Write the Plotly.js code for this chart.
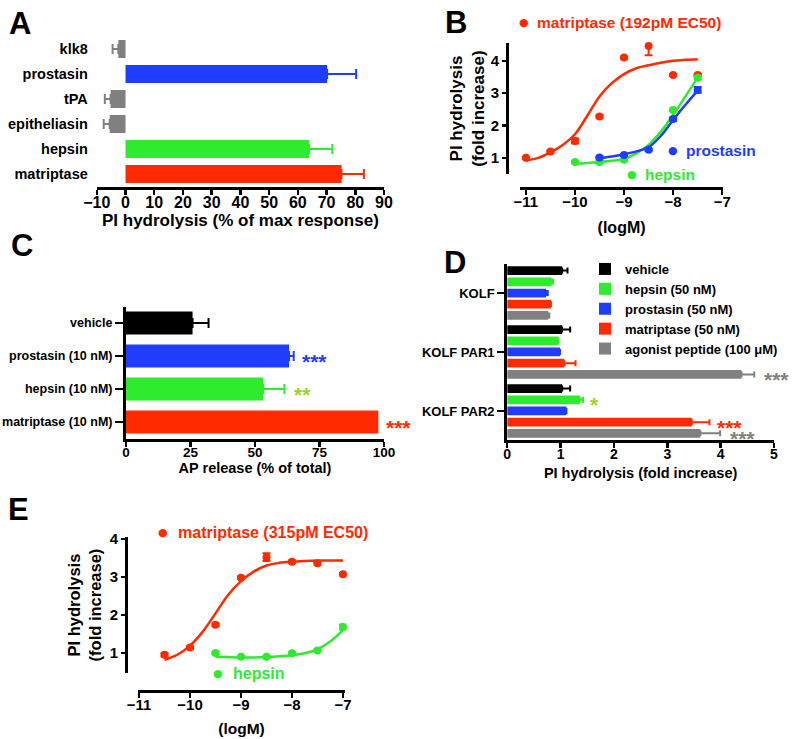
<!DOCTYPE html>
<html>
<head>
<meta charset="utf-8">
<script src="https://cdn.plot.ly/plotly-3.0.1.min.js"></script>
<style>
  body { margin: 0; background: #fff; }
  #plotDiv { width: 800px; height: 739px; }
</style>
</head>
<body>
<div id="plotDiv"></div>
<script>
var RED = '#ff2a00', BLUE = '#1f3dff', GREEN = '#2eeb2e', GRAY = '#808080', BLACK = '#000000', LIME = '#99d61f';

// A - PI hydrolysis (% of max response)
var aCats = ['klk8', 'prostasin', 'tPA', 'epitheliasin', 'hepsin', 'matriptase'];
var aVals = [-2.5, 70.2, -5.2, -5.5, 63.9, 75.2];
var aErr = [2.0, 10.1, 2.0, 2.1, 8.1, 7.8];
var aColors = [GRAY, BLUE, GRAY, GRAY, GREEN, RED];

// B - dose response, points
var bMatDose = [-11, -10.5, -10, -9.5, -9, -8.5, -8, -7.5];
var bMatVals = [1.0, 1.2, 1.52, 2.28, 4.1, 4.46, 3.56, 3.56];
var bMatErr = [0.03, 0.03, 0.08, 0.03, 0.03, 0.29, 0.03, 0.03];
var bProDose = [-9.5, -9, -8.5, -8, -7.5];
var bProVals = [1.01, 1.09, 1.25, 2.2, 3.1];
var bProErr = [0.03, 0.03, 0.03, 0.05, 0.09];
var bHepDose = [-10, -9.5, -9, -8, -7.5];
var bHepVals = [0.87, 0.87, 0.94, 2.48, 3.48];
var bHepErr = [0.03, 0.03, 0.03, 0.04, 0.05];
// B - fitted curves
var bMatFitDose = [-11, -10.75, -10.5, -10.25, -10, -9.75, -9.5, -9.25, -9, -8.75, -8.5, -8.25, -8, -7.75, -7.5];
var bMatFit = [0.92, 1.0, 1.17, 1.4, 1.73, 2.3, 2.9, 3.31, 3.59, 3.77, 3.86, 3.94, 4.0, 4.03, 4.05];
var bProFitDose = [-9.5, -9.25, -9, -8.75, -8.5, -8.25, -8, -7.75, -7.5];
var bProFit = [0.99, 1.04, 1.11, 1.2, 1.33, 1.68, 2.17, 2.64, 3.08];
var bHepFitDose = [-10, -9.75, -9.5, -9.25, -9, -8.75, -8.5, -8.25, -8, -7.75, -7.5];
var bHepFit = [0.82, 0.84, 0.87, 0.91, 0.97, 1.14, 1.4, 1.81, 2.33, 2.9, 3.48];

// C - AP release (% of total)
var cCats = ['vehicle', 'prostasin (10 nM)', 'hepsin (10 nM)', 'matriptase (10 nM)'];
var cVals = [25.8, 63.2, 53.2, 97.8];
var cErr = [6.2, 1.8, 8.2, 0];
var cColors = [BLACK, BLUE, GREEN, RED];
var cStars = ['', '***', '**', '***'];
var cStarX = [0, 67.5, 64.5, 100];
var cStarColors = [BLACK, BLUE, LIME, RED];

// D - PI hydrolysis (fold increase) by cell line
var dCats = ['KOLF', 'KOLF PAR1', 'KOLF PAR2'];
var dNames = ['vehicle', 'hepsin (50 nM)', 'prostasin (50 nM)', 'matriptase (50 nM)', 'agonist peptide (100 \u03bcM)'];
var dColors = [BLACK, GREEN, BLUE, RED, GRAY];
var dVehicle = [1.03, 1.03, 1.03];
var dVehicleErr = [0.1, 0.15, 0.15];
var dHepsin = [0.83, 0.96, 1.36];
var dHepsinErr = [0.03, 0, 0.06];
var dProstasin = [0.73, 0.99, 1.11];
var dProstasinErr = [0.03, 0, 0];
var dMatriptase = [0.82, 1.07, 3.46];
var dMatriptaseErr = [0, 0.21, 0.33];
var dAgonist = [0.77, 4.39, 3.62];
var dAgonistErr = [0.02, 0.24, 0.37];

// E - dose response, points and fits
var eMatDose = [-10.5, -10, -9.5, -9, -8.5, -8, -7.5, -7];
var eMatVals = [0.95, 1.14, 1.74, 2.98, 3.52, 3.4, 3.36, 3.07];
var eMatErr = [0.04, 0.03, 0.03, 0.03, 0.1, 0.03, 0.03, 0.03];
var eHepDose = [-9.5, -9, -8.5, -8, -7.5, -7];
var eHepVals = [1.0, 0.9, 0.9, 0.99, 1.06, 1.68];
var eHepErr = [0.03, 0.02, 0.02, 0.02, 0.03, 0.07];
var eMatFitDose = [-10.5, -10.25, -10, -9.75, -9.5, -9.25, -9, -8.75, -8.5, -8.25, -8, -7.5, -7];
var eMatFit = [0.82, 0.95, 1.19, 1.56, 2.04, 2.53, 2.89, 3.14, 3.3, 3.37, 3.4, 3.43, 3.43];
var eHepFitDose = [-9.5, -9.25, -9, -8.75, -8.5, -8.25, -8, -7.75, -7.5, -7.25, -7];
var eHepFit = [0.9, 0.89, 0.88, 0.88, 0.89, 0.91, 0.94, 0.99, 1.1, 1.3, 1.6];

var FONT = 'Liberation Sans, Arial, sans-serif';
function f(size, color) {
  return { family: FONT, size: size, color: color || 'black', weight: 'bold' };
}

function axis(extra) {
  var base = {
    showline: true, linewidth: 3, linecolor: 'black',
    ticks: 'outside', ticklen: 5, tickwidth: 2.5, tickcolor: 'black',
    showgrid: false, zeroline: false, tickfont: f(15), fixedrange: true
  };
  for (var k in extra) base[k] = extra[k];
  return base;
}

function onlyPos(v, e) { return v.map(function (d, i) { return d >= 0 ? e[i] : 0; }); }
function onlyNeg(v, e) { return v.map(function (d, i) { return d < 0 ? e[i] : 0; }); }

function points(x, y, err, color, xa, ya) {
  return {
    type: 'scatter', mode: 'markers', x: x, y: y, xaxis: xa, yaxis: ya,
    marker: { color: color, size: 8 }, cliponaxis: false, showlegend: false,
    error_y: { type: 'data', array: err, color: color, thickness: 2, width: 4 }
  };
}
function fit(x, y, color, xa, ya) {
  return {
    type: 'scatter', mode: 'lines', x: x, y: y, xaxis: xa, yaxis: ya,
    line: { color: color, width: 2.5, shape: 'spline' }, showlegend: false
  };
}

var data = [
  {
    type: 'bar', orientation: 'h', y: aCats, x: aVals, width: 0.72,
    marker: { color: aColors }, showlegend: false, xaxis: 'x', yaxis: 'y'
  },
  fit(bMatFitDose, bMatFit, RED, 'x2', 'y2'),
  fit(bHepFitDose, bHepFit, GREEN, 'x2', 'y2'),
  fit(bProFitDose, bProFit, BLUE, 'x2', 'y2'),
  points(bMatDose, bMatVals, bMatErr, RED, 'x2', 'y2'),
  points(bHepDose, bHepVals, bHepErr, GREEN, 'x2', 'y2'),
  points(bProDose, bProVals, bProErr, BLUE, 'x2', 'y2'),
  {
    type: 'bar', orientation: 'h', y: cCats, x: cVals, width: 0.7,
    marker: { color: cColors }, showlegend: false, xaxis: 'x3', yaxis: 'y3'
  },
  fit(eMatFitDose, eMatFit, RED, 'x5', 'y5'),
  fit(eHepFitDose, eHepFit, GREEN, 'x5', 'y5'),
  points(eMatDose, eMatVals, eMatErr, RED, 'x5', 'y5'),
  points(eHepDose, eHepVals, eHepErr, GREEN, 'x5', 'y5')
];

// per-bar coloured error bars for A and C
aCats.forEach(function (c, i) {
  data.push({
    type: 'scatter', mode: 'none', y: [c], x: [aVals[i]], xaxis: 'x', yaxis: 'y', showlegend: false,
    error_x: { type: 'data', symmetric: false, array: [onlyPos(aVals, aErr)[i]], arrayminus: [onlyNeg(aVals, aErr)[i]],
      color: aColors[i], thickness: 2, width: 5 }
  });
});
cCats.forEach(function (c, i) {
  if (!cErr[i]) return;
  data.push({
    type: 'scatter', mode: 'none', y: [c], x: [cVals[i]], xaxis: 'x3', yaxis: 'y3', showlegend: false,
    error_x: { type: 'data', symmetric: false, array: [cErr[i]], arrayminus: [0], color: cColors[i], thickness: 2, width: 5 }
  });
});

var dSeries = [dVehicle, dHepsin, dProstasin, dMatriptase, dAgonist];
var dErrs = [dVehicleErr, dHepsinErr, dProstasinErr, dMatriptaseErr, dAgonistErr];
dSeries.forEach(function (s, i) {
  data.push({
    type: 'bar', orientation: 'h', name: dNames[i], y: dCats, x: s, xaxis: 'x4', yaxis: 'y4',
    marker: { color: dColors[i] },
    error_x: { type: 'data', symmetric: false, array: dErrs[i], arrayminus: [0, 0, 0], color: dColors[i], thickness: 2, width: 3 }
  });
});

function paperNote(t, x, y, font, xanchor) {
  return { text: t, xref: 'paper', yref: 'paper', x: x / 800, y: 1 - y / 739, showarrow: false,
    xanchor: xanchor || 'center', yanchor: 'middle', font: font };
}
function letter(t, x, y) { return paperNote(t, x, y, f(31)); }
function label(t, color, x, y, size) { return paperNote(t, x, y, f(size, color), 'left'); }
function dot(color, x, y) {
  return paperNote('\u25cf', x, y, { family: 'DejaVu Sans', size: 11, color: color });
}
function stars(t, color, x, y, xa, ya, size) {
  return { text: t, x: x, y: y, xref: xa, yref: ya, xanchor: 'left', yanchor: 'middle', showarrow: false, yshift: -5,
    font: { family: FONT, size: size, color: color, weight: 'bold' } };
}

var annotations = [
  letter('A', 20, 24), letter('B', 456, 22), letter('C', 22, 245), letter('D', 455, 262), letter('E', 18, 509),
  dot(RED, 524, 23), label('matriptase (192pM EC50)', RED, 535, 23, 15.5),
  dot(BLUE, 673, 151), label('prostasin', BLUE, 684, 151, 15.5),
  dot(GREEN, 632, 174), label('hepsin', GREEN, 643, 174, 15.5),
  dot(RED, 163, 532), label('matriptase (315pM EC50)', RED, 176, 532, 16),
  dot(GREEN, 218, 673), label('hepsin', GREEN, 231, 673, 16),
  stars('***', GRAY, 4.78, 1.38, 'x4', 'y4', 21),
  stars('*', LIME, 1.52, 1.81, 'x4', 'y4', 21),
  stars('***', RED, 3.9, 2.19, 'x4', 'y4', 21),
  stars('***', GRAY, 4.14, 2.38, 'x4', 'y4', 21)
];
cStars.forEach(function (s, i) {
  if (s) annotations.push(stars(s, cStarColors[i], cStarX[i], i, 'x3', 'y3', 21));
});

var layout = {
  width: 800, height: 739,
  margin: { t: 0, b: 0, l: 0, r: 0 },
  paper_bgcolor: 'white', plot_bgcolor: 'white',
  font: { family: FONT, color: 'black' },
  barmode: 'group', bargap: 0.05, bargroupgap: 0.22,
  showlegend: true,
  legend: { x: 585 / 800, y: 1 - 254 / 739, xanchor: 'left', yanchor: 'top', traceorder: 'normal',
    font: f(13), bgcolor: 'rgba(0,0,0,0)' },
  // A
  xaxis: axis({ domain: [0.121, 0.48], range: [-10, 90], dtick: 10, anchor: 'y', tickfont: f(16),
    ticklabelstandoff: -6, title: { text: 'PI hydrolysis (% of max response)', font: f(17), standoff: 5 } }),
  yaxis: axis({ domain: [0.7476, 0.9506], range: [5.5, -0.5], anchor: 'x', showline: false, ticks: '',
    tickfont: f(14.5), ticklabelstandoff: 8 }),
  // B
  xaxis2: axis({ domain: [0.65, 0.904], range: [-11.12, -6.98], tickvals: [-11, -10, -9, -8, -7],
    anchor: 'free', position: 1 - 188 / 739, ticklabelstandoff: -6,
    title: { text: '(logM)', font: f(16), standoff: 12 } }),
  yaxis2: axis({ domain: [0.7645, 0.9418], range: [0.5, 4.55], tickvals: [1, 2, 3, 4], ticklen: 4,
    anchor: 'free', position: 507 / 800,
    title: { text: 'PI hydrolysis<br>(fold increase)', font: f(17), standoff: 0 } }),
  // C
  xaxis3: axis({ domain: [0.1575, 0.48], range: [0, 100], dtick: 25, anchor: 'y3', tickfont: f(13.5),
    ticklabelstandoff: -6, title: { text: 'AP release (% of total)', font: f(14.5), standoff: 5 } }),
  yaxis3: axis({ domain: [0.4066, 0.5852], range: [3.5, -0.5], anchor: 'x3', ticklen: 8, tickfont: f(12.5) }),
  // D
  xaxis4: axis({ domain: [0.634, 0.9675], range: [0, 5], dtick: 1, anchor: 'y4', tickfont: f(14),
    ticklabelstandoff: -6, title: { text: 'PI hydrolysis (fold increase)', font: f(14.5), standoff: 7 } }),
  yaxis4: axis({ domain: [0.404, 0.6434], range: [2.5, -0.5], anchor: 'x4', ticklen: 7, tickfont: f(13) }),
  // E
  xaxis5: axis({ domain: [0.1725, 0.4313], range: [-11.02, -6.96], tickvals: [-11, -10, -9, -8, -7],
    anchor: 'free', position: 1 - 691 / 739, ticklabelstandoff: -6,
    title: { text: '(logM)', font: f(15.5), standoff: 11 } }),
  yaxis5: axis({ domain: [0.0893, 0.2733], range: [0.47, 4.05], tickvals: [1, 2, 3, 4], ticklen: 4,
    anchor: 'free', position: 126 / 800,
    title: { text: 'PI hydrolysis<br>(fold increase)', font: f(16.5), standoff: 2 } }),
  annotations: annotations
};

Plotly.newPlot('plotDiv', data, layout, { displayModeBar: false, staticPlot: true });
</script>
</body>
</html>
